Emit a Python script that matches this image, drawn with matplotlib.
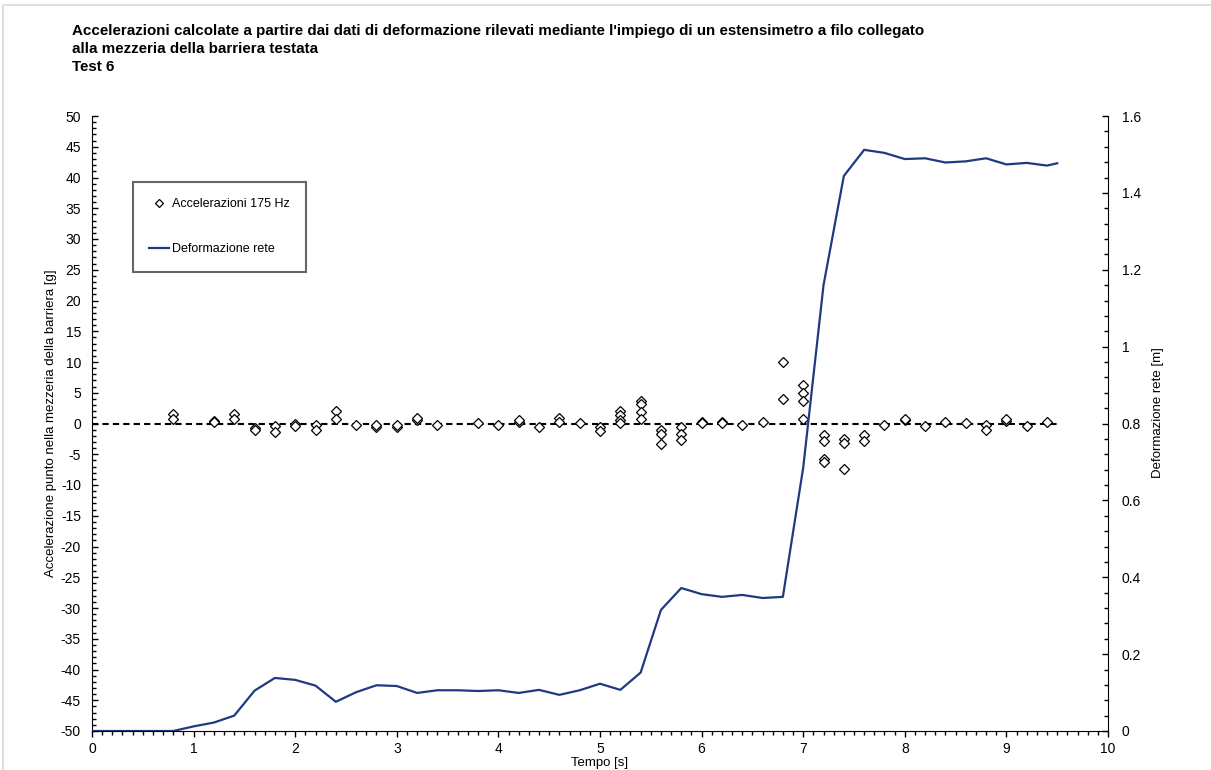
import numpy as np
import matplotlib.pyplot as plt
from matplotlib.lines import Line2D
from matplotlib.ticker import MultipleLocator, FuncFormatter

plt.rcParams['font.family'] = ['Liberation Sans', 'DejaVu Sans']
plt.rcParams['axes.unicode_minus'] = False

# deformazione rete [m], campionata ogni 0.2 s
def_time = [0.0, 0.2, 0.4, 0.6, 0.8, 1.0, 1.2, 1.4, 1.6, 1.8, 2.0, 2.2, 2.4, 2.6,
            2.8, 3.0, 3.2, 3.4, 3.6, 3.8, 4.0, 4.2, 4.4, 4.6, 4.8, 5.0, 5.2, 5.4,
            5.6, 5.8, 6.0, 6.2, 6.4, 6.6, 6.8, 7.0, 7.2, 7.4, 7.6, 7.8, 8.0, 8.2,
            8.4, 8.6, 8.8, 9.0, 9.2, 9.4, 9.5]
def_value = [0.0, 0.0, 0.0, 0.0, 0.0, 0.012, 0.022, 0.040, 0.105, 0.138, 0.133,
             0.118, 0.076, 0.101, 0.119, 0.117, 0.099, 0.106, 0.106, 0.104, 0.106,
             0.099, 0.107, 0.094, 0.106, 0.123, 0.107, 0.152, 0.315, 0.372, 0.356,
             0.349, 0.354, 0.346, 0.349, 0.685, 1.160, 1.444, 1.512, 1.504, 1.488,
             1.490, 1.479, 1.482, 1.490, 1.474, 1.478, 1.471, 1.477]

# accelerazioni calcolate [g]
acc_time = [0.8, 0.8, 1.2, 1.2, 1.4, 1.4, 1.6, 1.6, 1.8, 1.8, 2.0, 2.0, 2.2, 2.2,
            2.4, 2.4, 2.6, 2.8, 2.8, 3.0, 3.0, 3.2, 3.2, 3.4, 3.8, 4.0, 4.2, 4.2,
            4.4, 4.6, 4.6, 4.8, 5.0, 5.0, 5.2, 5.2, 5.2, 5.2, 5.4, 5.4, 5.4, 5.4,
            5.6, 5.6, 5.6, 5.8, 5.8, 5.8, 6.0, 6.0, 6.2, 6.2, 6.4, 6.6, 6.8, 6.8,
            7.0, 7.0, 7.0, 7.0, 7.2, 7.2, 7.2, 7.2, 7.4, 7.4, 7.4, 7.6, 7.6, 7.8,
            8.0, 8.0, 8.2, 8.4, 8.6, 8.8, 8.8, 9.0, 9.0, 9.2, 9.4]
acc_value = [1.5, 0.8, 0.4, 0.2, 1.5, 0.7, -0.7, -1.0, -0.4, -1.4, -0.1, -0.4,
             -0.3, -1.0, 2.1, 0.7, -0.3, -0.5, -0.3, -0.5, -0.2, 0.6, 0.9, -0.3,
             0.1, -0.3, 0.2, 0.5, -0.6, 0.9, 0.3, 0.1, -0.6, -1.2, 2.1, 1.4, 0.6,
             0.1, 3.7, 3.2, 1.9, 0.8, -1.1, -1.7, -3.3, -0.6, -1.7, -2.7, 0.3, 0.1,
             0.3, 0.1, -0.2, 0.2, 10.0, 4.0, 6.3, 4.9, 3.7, 0.7, -1.9, -2.8, -5.8,
             -6.2, -2.6, -3.2, -7.4, -1.9, -2.8, -0.3, 0.5, 0.7, -0.4, 0.3, 0.1,
             -0.3, -1.0, 0.4, 0.7, -0.4, 0.3]

line_color = '#1f3b80'

fig = plt.figure(figsize=(12.11, 7.70), dpi=100)
ax = fig.add_axes([92/1211, 1 - 731/770, 1016/1211, 615/770])
ax2 = ax.twinx()

# cornice grigia dell'area grafico (solo bordo alto e sinistro)
fig.add_artist(Line2D([3/1211, 3/1211, 1.0], [0.0, 1 - 5/770, 1 - 5/770],
                      transform=fig.transFigure, color='#d9d9d9', lw=1.2))

ax.plot([0, 9.5], [0, 0], color='black', ls=(0, (3, 2)), lw=1.5, zorder=1)
ax.plot(acc_time, acc_value, ls='none', marker='D', ms=5.5, mfc='white',
        mec='black', mew=0.9, zorder=3)
ax2.plot(def_time, def_value, color=line_color, lw=1.6, zorder=4)

ax.set_xlim(0, 10)
ax.set_ylim(-50, 50)
ax2.set_ylim(0, 1.6)

ax.xaxis.set_major_locator(MultipleLocator(1))
ax.xaxis.set_minor_locator(MultipleLocator(0.1))
ax.yaxis.set_major_locator(MultipleLocator(5))
ax.yaxis.set_minor_locator(MultipleLocator(1))
ax2.yaxis.set_major_locator(MultipleLocator(0.2))
ax2.yaxis.set_minor_locator(MultipleLocator(0.04))
ax2.yaxis.set_major_formatter(FuncFormatter(lambda v, p: '%g' % round(v, 2)))

ax.spines['top'].set_visible(False)
ax.spines['right'].set_visible(False)
ax2.spines['top'].set_visible(False)
ax2.spines['left'].set_visible(False)
ax2.spines['bottom'].set_visible(False)

ax.tick_params(axis='x', which='major', direction='out', length=4, width=1, pad=4, labelsize=10)
ax.tick_params(axis='x', which='minor', direction='out', length=3, width=1)
ax.tick_params(axis='y', which='major', direction='in', length=4, width=1, pad=8, labelsize=10)
ax.tick_params(axis='y', which='minor', direction='in', length=3, width=1)
ax2.tick_params(axis='y', which='major', direction='in', length=4, width=1, pad=10, labelsize=10)
ax2.tick_params(axis='y', which='minor', direction='in', length=3, width=1)

ax.set_xlabel('Tempo [s]', fontsize=9.5)
ax.xaxis.set_label_coords(0.5, -0.043)
ax.set_ylabel('Accelerazione punto nella mezzeria della barriera [g]', fontsize=9.5)
ax.yaxis.set_label_coords(-0.0345, 0.5)
ax2.set_ylabel('Deformazione rete [m]', fontsize=9.5)
ax2.yaxis.set_label_coords(1.043, 0.517)

handles = [Line2D([], [], ls='none', marker='D', ms=4.5, mfc='white', mec='black', mew=0.9),
           Line2D([], [], color=line_color, lw=1.6)]
leg = ax2.legend(handles, ['Accelerazioni 175 Hz', 'Deformazione rete'],
                 loc='upper left', bbox_to_anchor=(41/1016, 549/615), borderaxespad=0,
                 fontsize=9, frameon=True, fancybox=False, handlelength=1.6,
                 handletextpad=0.2, labelspacing=2.65, borderpad=1.3)
leg.get_frame().set_edgecolor('#404040')
leg.get_frame().set_linewidth(1.5)

fig.text(72/1211, 1 - 24/770,
         "Accelerazioni calcolate a partire dai dati di deformazione rilevati mediante l'impiego di un estensimetro a filo collegato\n"
         "alla mezzeria della barriera testata\n"
         "Test 6", fontsize=10.9, fontweight='bold', va='top', ha='left', linespacing=1.37)

plt.savefig('out.png', dpi=100)
